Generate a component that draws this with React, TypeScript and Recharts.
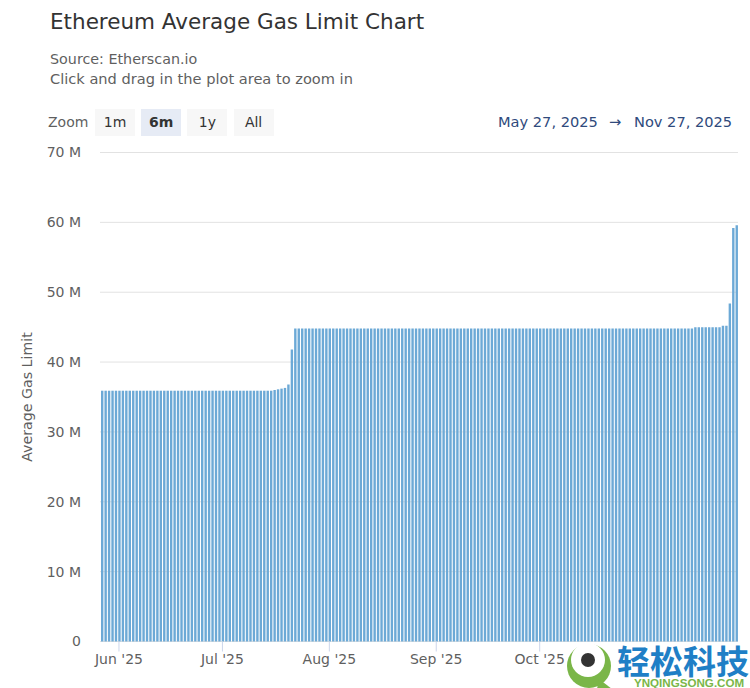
import React from 'react';
import { BarChart, Bar, XAxis, YAxis, CartesianGrid } from 'recharts';

const gasLimitMillions = [
  35.9, 35.9, 35.9, 35.9, 35.9, 35.9, 35.9, 35.9, 35.9, 35.9,
  35.9, 35.9, 35.9, 35.9, 35.9, 35.9, 35.9, 35.9, 35.9, 35.9,
  35.9, 35.9, 35.9, 35.9, 35.9, 35.9, 35.9, 35.9, 35.9, 35.9,
  35.9, 35.9, 35.9, 35.9, 35.9, 35.9, 35.9, 35.9, 35.9, 35.9,
  35.9, 35.9, 35.9, 35.9, 35.9, 35.9, 35.9, 35.9, 35.9, 35.9,
  36.0, 36.1, 36.2, 36.3, 36.8, 41.8, 44.8, 44.8, 44.8, 44.8,
  44.8, 44.8, 44.8, 44.8, 44.8, 44.8, 44.8, 44.8, 44.8, 44.8,
  44.8, 44.8, 44.8, 44.8, 44.8, 44.8, 44.8, 44.8, 44.8, 44.8,
  44.8, 44.8, 44.8, 44.8, 44.8, 44.8, 44.8, 44.8, 44.8, 44.8,
  44.8, 44.8, 44.8, 44.8, 44.8, 44.8, 44.8, 44.8, 44.8, 44.8,
  44.8, 44.8, 44.8, 44.8, 44.8, 44.8, 44.8, 44.8, 44.8, 44.8,
  44.8, 44.8, 44.8, 44.8, 44.8, 44.8, 44.8, 44.8, 44.8, 44.8,
  44.8, 44.8, 44.8, 44.8, 44.8, 44.8, 44.8, 44.8, 44.8, 44.8,
  44.8, 44.8, 44.8, 44.8, 44.8, 44.8, 44.8, 44.8, 44.8, 44.8,
  44.8, 44.8, 44.8, 44.8, 44.8, 44.8, 44.8, 44.8, 44.8, 44.8,
  44.8, 44.8, 44.8, 44.8, 44.8, 44.8, 44.8, 44.8, 44.8, 44.8,
  44.8, 44.8, 44.8, 44.8, 44.8, 44.8, 44.8, 44.8, 44.8, 44.8,
  44.8, 44.8, 45.0, 45.0, 45.0, 45.0, 45.0, 45.0, 45.0, 45.0,
  45.2, 45.2, 48.4, 59.2, 59.6,
];
const monthTicks = [5, 35, 66, 97, 127];
const monthLabels = ["Jun '25", "Jul '25", "Aug '25", "Sep '25", "Oct '25"];
const yTicks = [0, 10, 20, 30, 40, 50, 60, 70];
const zoomButtons = ['1m', '6m', '1y', 'All'];

const chartData = gasLimitMillions.map((value, day) => ({ day, value }));
const FONT = '"DejaVu Sans", sans-serif';

const abs = (left: number, top: number, extra: React.CSSProperties = {}): React.CSSProperties => ({
  position: 'absolute',
  left,
  top,
  whiteSpace: 'nowrap',
  fontFamily: FONT,
  ...extra,
});

export default function App() {
  return (
    <div style={{ position: 'absolute', left: 0, top: 0, width: 750, height: 688, background: '#fff', overflow: 'hidden' }}>
      <BarChart
        width={750}
        height={688}
        data={chartData}
        margin={{ top: 152.5, right: 12, bottom: 0, left: 0 }}
        barCategoryGap={0}
        style={{ position: 'absolute', left: 0, top: 0 }}
      >
        <CartesianGrid horizontal vertical={false} stroke="#e2e2e2" />
        <XAxis
          dataKey="day"
          type="category"
          interval={0}
          ticks={monthTicks}
          tickFormatter={(d: number) => monthLabels[monthTicks.indexOf(d)]}
          tick={{ fill: '#5f5f5f', fontSize: 14, fontFamily: FONT }}
          tickLine={{ stroke: '#ccd6eb' }}
          tickSize={10}
          tickMargin={3}
          axisLine={false}
          height={46.5}
        />
        <YAxis
          domain={[0, 70]}
          ticks={yTicks}
          width={100}
          tickFormatter={(v: number) => (v === 0 ? '0' : `${v} M`)}
          tick={{ fill: '#5f5f5f', fontSize: 14, fontFamily: FONT }}
          tickLine={false}
          tickMargin={13}
          axisLine={false}
          label={{ value: 'Average Gas Limit', angle: -90, position: 'insideLeft', offset: 27, style: { fill: '#5f5f5f', fontSize: 14.2, fontFamily: FONT, textAnchor: 'middle' } }}
        />
        <Bar dataKey="value" fill="#6ca9d6" barSize={2.4} isAnimationActive={false} />
      </BarChart>

      <div style={abs(50, 9, { fontSize: 21.5, color: '#333' })}>Ethereum Average Gas Limit Chart</div>
      <div style={abs(50, 51, { fontSize: 14.3, color: '#5f5f5f' })}>Source: Etherscan.io</div>
      <div style={abs(50, 70, { fontSize: 14.6, color: '#5f5f5f' })}>Click and drag in the plot area to zoom in</div>
      <div style={abs(48, 114, { fontSize: 14, color: '#5f5f5f' })}>Zoom</div>
      {zoomButtons.map((b, i) => (
        <div
          key={b}
          style={abs(95 + i * 46.2, 109, {
            width: 40,
            height: 27,
            lineHeight: '27px',
            textAlign: 'center',
            fontSize: 14,
            color: '#333',
            fontWeight: b === '6m' ? 700 : 400,
            background: b === '6m' ? '#e6ebf5' : '#f7f7f7',
          })}
        >
          {b}
        </div>
      ))}
      <div style={abs(498, 113, { fontSize: 14.6, color: '#2f4a7c' })}>May 27, 2025</div>
      <div style={abs(609, 113, { fontSize: 14.6, color: '#2f4a7c' })}>→</div>
      <div style={abs(634, 113, { fontSize: 14.6, color: '#2f4a7c' })}>Nov 27, 2025</div>

      <svg width={50} height={46} style={{ position: 'absolute', left: 565, top: 643 }}>
        <circle cx={24} cy={23} r={22} fill="#7ab648" />
        <path d="M34 36 L47 46 L32 46 Z" fill="#7ab648" />
        <circle cx={23} cy={17} r={17} fill="#fff" />
        <circle cx={23} cy={17} r={7} fill="#333" />
      </svg>
      <div style={abs(617, 645, { fontFamily: '"Noto Sans CJK SC", sans-serif', fontWeight: 700, fontSize: 33, lineHeight: '31px', color: '#1f7fc6' })}>轻松科技</div>
      <div style={abs(634, 677, { fontFamily: '"Liberation Sans", sans-serif', fontWeight: 700, fontSize: 11.6, lineHeight: '11px', color: '#7ab648' })}>YNQINGSONG.COM</div>
    </div>
  );
}
